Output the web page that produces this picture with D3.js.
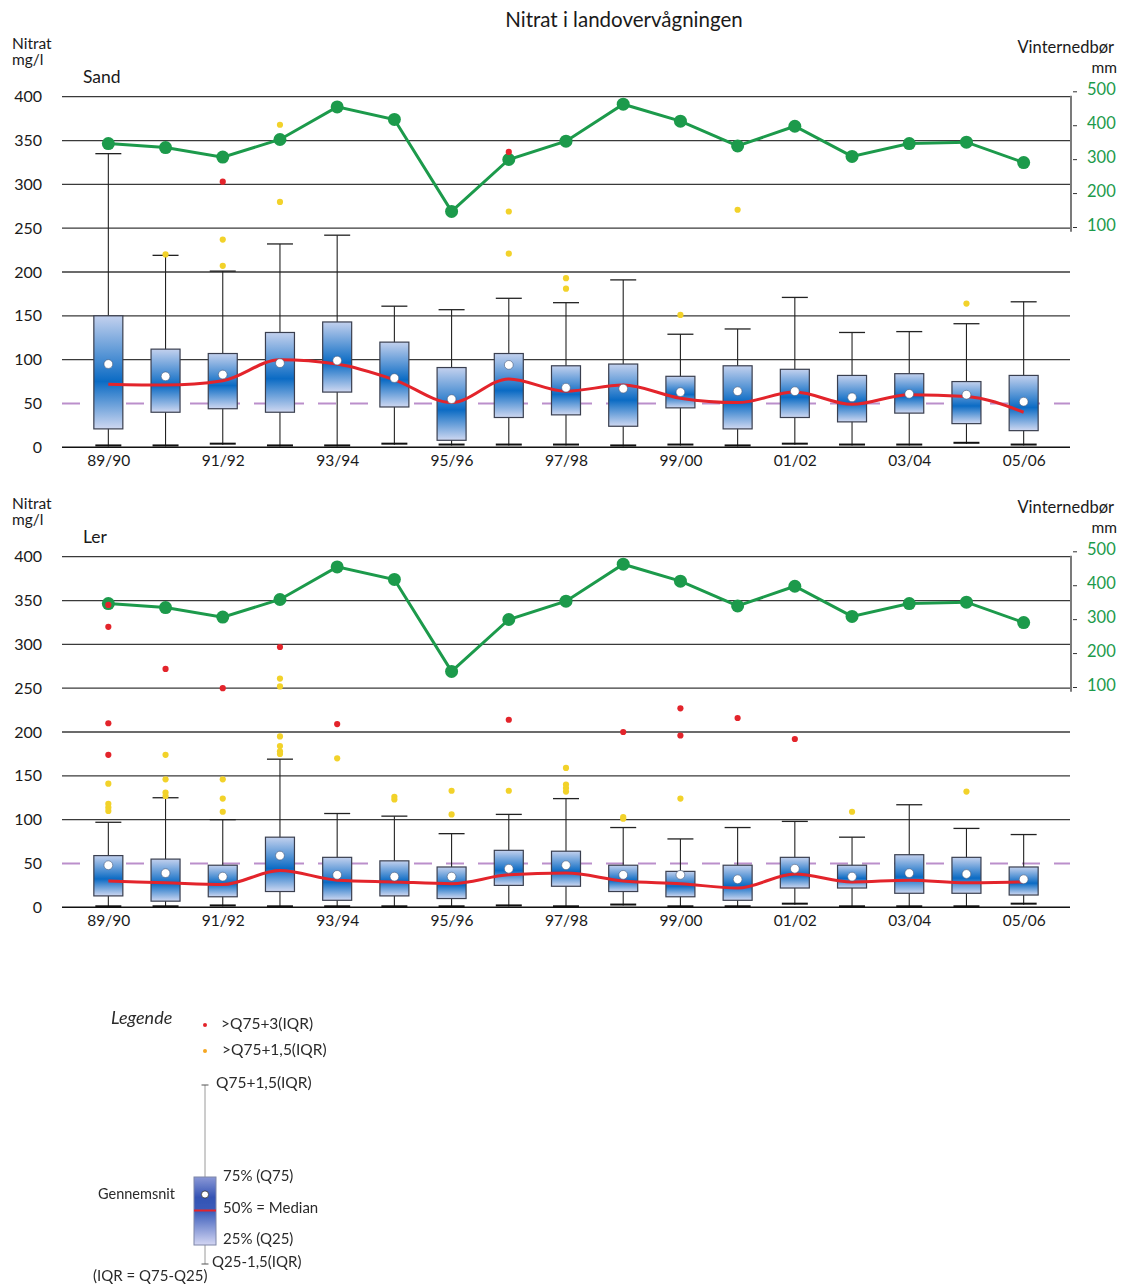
<!DOCTYPE html>
<html>
<head>
<meta charset="utf-8">
<script src="https://cdn.jsdelivr.net/npm/d3@7"></script>
<style>
  body { margin: 0; background: #fff; }
  svg { display: block; }
  text { font-family: Lato, "Open Sans", "Noto Sans", sans-serif; }
</style>
</head>
<body>
<svg id="chart" width="1121" height="1285"></svg>
<script>
// ---- data ----------------------------------------------------------------
const seasons = ["89/90","90/91","91/92","92/93","93/94","94/95","95/96","96/97","97/98",
                 "98/99","99/00","00/01","01/02","02/03","03/04","04/05","05/06"];
const labelledSeasons = ["89/90","91/92","93/94","95/96","97/98","99/00","01/02","03/04","05/06"];
const nitrateTicks = [0, 50, 100, 150, 200, 250, 300, 350, 400];
const gridValues = [100, 150, 200, 250, 300, 350, 400];
const limitValue = 50;
const precipTicks = [100, 200, 300, 400, 500];

// winter precipitation, mm
const winterPrecip = [346, 334, 306, 358, 454, 417, 146, 299, 353, 462, 412, 339, 397, 308, 346, 350, 290];

// Sand: nitrate mg/l
const sandLow    = [1, 1, 3, 1, 1, 3, 2, 2, 2, 1, 2, 1, 3, 2, 2, 4, 2];
const sandQ25    = [21, 40, 44, 40, 63, 46, 8, 34, 37, 24, 45, 21, 34, 29, 39, 27, 19];
const sandMedian = [72, 71, 76, 100, 95, 77, 51, 78, 64, 71, 56, 51, 63, 49, 60, 58, 40];
const sandQ75    = [150, 112, 107, 131, 143, 120, 91, 107, 93, 95, 81, 93, 89, 82, 84, 75, 82];
const sandHigh   = [335, 219, 201, 232, 242, 161, 157, 170, 165, 191, 129, 135, 171, 131, 132, 141, 166];
const sandMean   = [95, 81, 83, 96, 99, 79, 55, 94, 68, 67, 63, 64, 64, 57, 61, 60, 52];
const sandExtreme = [[], [], [303], [], [], [], [], [337], [], [], [], [], [], [], [], [], []];
const sandMild    = [[], [220], [237, 207], [368, 280], [], [], [], [269, 221], [193, 181], [], [151], [271], [], [], [], [164], []];

// Ler: nitrate mg/l
const lerLow    = [0, 0, 1, 0, 0, 0, 0, 1, 0, 2, 0, 0, 3, 0, 0, 0, 3];
const lerQ25    = [13, 7, 12, 18, 8, 13, 10, 25, 24, 18, 12, 8, 22, 22, 16, 16, 14];
const lerMedian = [30, 28, 26, 42, 31, 29, 27, 37, 39, 30, 27, 22, 38, 29, 31, 28, 29];
const lerQ75    = [59, 55, 48, 80, 57, 53, 46, 65, 64, 48, 41, 48, 57, 48, 60, 57, 46];
const lerHigh   = [97, 125, 100, 169, 107, 104, 84, 106, 124, 91, 78, 91, 98, 80, 117, 90, 83];
const lerMean   = [48, 39, 35, 59, 37, 35, 35, 44, 48, 37, 37, 32, 44, 35, 39, 38, 32];
const lerExtreme = [[345, 320, 210, 174], [272], [250], [297], [209], [], [], [214], [], [200], [227, 196], [216], [192], [], [], [], []];
const lerMild    = [[141, 118, 114, 110], [174, 146, 131, 127], [146, 124, 109], [261, 252, 195, 184, 178, 175], [170], [126, 123],
                    [133, 106], [133], [159, 140, 136, 132], [103, 101], [124], [], [], [109], [], [132], []];

// ---- layout --------------------------------------------------------------
const svg = d3.select("#chart");
const plotLeft = 62, plotRight = 1070;
const panelHeight = 350.6;
const boxWidth = 29, capWidth = 26;
const colors = {
  text: "#1a1a1a", grid: "#3a3a3a", green: "#1c9a4b", median: "#e3242b", extreme: "#e3242b",
  mild: "#f2d22a", limit: "#bb8fcb", whisker: "#222"
};

const x = d3.scalePoint().domain(seasons).range([plotLeft, plotRight]).padding(0.81);

const defs = svg.append("defs");
const grad = defs.append("linearGradient").attr("id", "boxFill")
  .attr("x1", 0).attr("y1", 0).attr("x2", 0).attr("y2", 1);
grad.append("stop").attr("offset", 0).attr("stop-color", "#c3d1ee");
grad.append("stop").attr("offset", 0.58).attr("stop-color", "#0b6bc4");
grad.append("stop").attr("offset", 1).attr("stop-color", "#cfd8f1");

const legendGrad = defs.append("linearGradient").attr("id", "legendFill")
  .attr("x1", 0).attr("y1", 0).attr("x2", 0).attr("y2", 1);
legendGrad.append("stop").attr("offset", 0).attr("stop-color", "#8a98d6");
legendGrad.append("stop").attr("offset", 0.3).attr("stop-color", "#3453b4");
legendGrad.append("stop").attr("offset", 0.5).attr("stop-color", "#3a5cba");
legendGrad.append("stop").attr("offset", 1).attr("stop-color", "#d3d6f3");

defs.append("filter").attr("id", "soft")
  .append("feGaussianBlur").attr("stdDeviation", 0.45);

// ---- title ---------------------------------------------------------------
svg.append("text").attr("x", 624).attr("y", 27).attr("text-anchor", "middle")
  .style("font-size", "20.5px").style("fill", colors.text).text("Nitrat i landovervågningen");

// ---- panel ---------------------------------------------------------------
function drawPanel(top, name, d) {
  const g = svg.append("g");
  const y = d3.scaleLinear().domain([0, 400]).range([top + panelHeight, top]);
  const yP = d3.scaleLinear().domain([100, 500]).range([top + 130.3, top - 5.4]);
  const label = (xx, yy, s, size, anchor) => g.append("text").attr("x", xx).attr("y", yy)
    .attr("text-anchor", anchor || "start").style("font-size", size + "px")
    .style("fill", colors.text).text(s);

  // axis titles
  label(12, top - 48, "Nitrat", 15.5);
  label(12, top - 32, "mg/l", 15.5);
  label(83, top - 14, name, 17.5);
  label(1114, top - 44, "Vinternedbør", 16.5, "end");
  label(1117, top - 24, "mm", 15.5, "end");

  // horizontal grid
  g.append("g").selectAll("line").data(gridValues).join("line")
    .attr("x1", plotLeft).attr("x2", plotRight)
    .attr("y1", v => y(v)).attr("y2", v => y(v))
    .attr("stroke", colors.grid).attr("stroke-width", 1.3);
  g.append("line").attr("x1", plotLeft).attr("x2", plotRight)
    .attr("y1", y(0)).attr("y2", y(0)).attr("stroke", "#111").attr("stroke-width", 1.6);

  // 50 mg/l reference
  g.append("line").attr("x1", plotLeft).attr("x2", plotRight)
    .attr("y1", y(limitValue)).attr("y2", y(limitValue))
    .attr("stroke", colors.limit).attr("stroke-width", 1.8).attr("stroke-dasharray", "18,14");

  // left axis labels
  const left = g.append("g").attr("transform", `translate(${plotLeft - 20},0)`)
    .call(d3.axisLeft(y).tickValues(nitrateTicks).tickSize(0).tickPadding(0));
  left.select(".domain").remove();
  left.selectAll("text").style("font-size", "16px").style("fill", colors.text)
    .style("font-family", "Lato, sans-serif");

  // bottom axis labels
  const bottom = g.append("g").attr("transform", `translate(0,${y(0) + 8})`)
    .call(d3.axisBottom(x).tickValues(labelledSeasons).tickSize(0).tickPadding(0));
  bottom.select(".domain").remove();
  bottom.selectAll("text").style("font-size", "15.5px").style("fill", colors.text)
    .style("font-family", "Lato, sans-serif");

  // right precipitation axis
  g.append("line").attr("x1", 1071).attr("x2", 1071)
    .attr("y1", top - 1).attr("y2", top + 135).attr("stroke", "#222").attr("stroke-width", 1.2);
  const right = g.append("g").attr("transform", "translate(1073,0)")
    .call(d3.axisRight(yP).tickValues(precipTicks).tickSize(4).tickPadding(10));
  right.select(".domain").remove();
  right.selectAll("line").attr("stroke", "#333");
  right.selectAll("text").style("font-size", "16.5px").style("fill", colors.green)
    .style("font-family", "Lato, sans-serif").attr("dy", "0.2em");

  // boxes
  const rows = seasons.map((s, i) => ({
    s, low: d.low[i], q25: d.q25[i], med: d.median[i], q75: d.q75[i], high: d.high[i], mean: d.mean[i]
  }));
  const boxes = g.append("g").selectAll("g").data(rows).join("g")
    .attr("transform", r => `translate(${x(r.s)},0)`);
  boxes.append("line").attr("x1", 0).attr("x2", 0)
    .attr("y1", r => y(r.low)).attr("y2", r => y(r.high))
    .attr("stroke", colors.whisker).attr("stroke-width", 1.1);
  boxes.append("line").attr("x1", -capWidth / 2).attr("x2", capWidth / 2)
    .attr("y1", r => y(r.high)).attr("y2", r => y(r.high))
    .attr("stroke", colors.whisker).attr("stroke-width", 1.3);
  boxes.append("line").attr("x1", -capWidth / 2).attr("x2", capWidth / 2)
    .attr("y1", r => y(r.low) - 1).attr("y2", r => y(r.low) - 1)
    .attr("stroke", "#111").attr("stroke-width", 2);
  boxes.append("rect").attr("x", -boxWidth / 2).attr("width", boxWidth)
    .attr("y", r => y(r.q75)).attr("height", r => y(r.q25) - y(r.q75))
    .attr("fill", "url(#boxFill)").attr("stroke", "#3a3f4f").attr("stroke-width", 1.2);

  // median line
  g.append("path").datum(rows)
    .attr("d", d3.line().x(r => x(r.s)).y(r => y(r.med)).curve(d3.curveMonotoneX))
    .attr("fill", "none").attr("stroke", colors.median).attr("stroke-width", 3);

  // means
  g.append("g").selectAll("circle").data(rows).join("circle")
    .attr("cx", r => x(r.s)).attr("cy", r => y(r.mean)).attr("r", 4.4)
    .attr("fill", "#fff").attr("stroke", "#4a5a7a").attr("stroke-width", 0.6);

  // winter precipitation
  const pData = seasons.map((s, i) => ({ s, v: winterPrecip[i] }));
  g.append("path").datum(pData)
    .attr("d", d3.line().x(p => x(p.s)).y(p => yP(p.v)))
    .attr("fill", "none").attr("stroke", colors.green).attr("stroke-width", 3);
  g.append("g").selectAll("circle").data(pData).join("circle")
    .attr("cx", p => x(p.s)).attr("cy", p => yP(p.v)).attr("r", 6.5)
    .attr("fill", colors.green);

  // outliers
  const mild = d.mild.flatMap((arr, i) => arr.map(v => ({ s: seasons[i], v })));
  const extreme = d.extreme.flatMap((arr, i) => arr.map(v => ({ s: seasons[i], v })));
  g.append("g").selectAll("circle").data(mild).join("circle")
    .attr("cx", p => x(p.s)).attr("cy", p => y(p.v)).attr("r", 3.1).attr("fill", colors.mild);
  g.append("g").selectAll("circle").data(extreme).join("circle")
    .attr("cx", p => x(p.s)).attr("cy", p => y(p.v)).attr("r", 3.1).attr("fill", colors.extreme);
}

drawPanel(96.7, "Sand", {
  low: sandLow, q25: sandQ25, median: sandMedian, q75: sandQ75, high: sandHigh, mean: sandMean,
  extreme: sandExtreme, mild: sandMild
});
drawPanel(556.7, "Ler", {
  low: lerLow, q25: lerQ25, median: lerMedian, q75: lerQ75, high: lerHigh, mean: lerMean,
  extreme: lerExtreme, mild: lerMild
});

// ---- legend --------------------------------------------------------------
const lg = svg.append("g").attr("filter", "url(#soft)");
const lt = (xx, yy, s, size, italic) => lg.append("text").attr("x", xx).attr("y", yy)
  .style("font-size", size + "px").style("font-style", italic ? "italic" : "normal")
  .style("fill", "#2a2a2a").text(s);

lt(111, 1024, "Legende", 18, true);
lg.append("circle").attr("cx", 205).attr("cy", 1025).attr("r", 2).attr("fill", colors.extreme);
lt(221, 1029, ">Q75+3(IQR)", 15.5);
lg.append("circle").attr("cx", 205).attr("cy", 1051).attr("r", 2).attr("fill", "#f5a623");
lt(222, 1055, ">Q75+1,5(IQR)", 15.5);

lg.append("line").attr("x1", 205).attr("x2", 205).attr("y1", 1085).attr("y2", 1264)
  .attr("stroke", "#9a9a9a").attr("stroke-width", 1);
lg.append("line").attr("x1", 201.5).attr("x2", 208.5).attr("y1", 1085).attr("y2", 1085)
  .attr("stroke", "#555").attr("stroke-width", 1);
lg.append("line").attr("x1", 201.5).attr("x2", 208.5).attr("y1", 1264).attr("y2", 1264)
  .attr("stroke", "#555").attr("stroke-width", 1);
lg.append("rect").attr("x", 194).attr("y", 1177).attr("width", 22).attr("height", 68)
  .attr("fill", "url(#legendFill)").attr("stroke", "#7f86a8").attr("stroke-width", 1);
lg.append("line").attr("x1", 194).attr("x2", 216).attr("y1", 1210.5).attr("y2", 1210.5)
  .attr("stroke", colors.median).attr("stroke-width", 2);
lg.append("circle").attr("cx", 205).attr("cy", 1194.5).attr("r", 3.6)
  .attr("fill", "#fff").attr("stroke", "#333").attr("stroke-width", 0.8);

lt(216, 1088, "Q75+1,5(IQR)", 15.5);
lt(223, 1181, "75% (Q75)", 15);
lt(223, 1213, "50% = Median", 15);
lt(223, 1244, "25% (Q25)", 15);
lt(212, 1267, "Q25-1,5(IQR)", 15);
lt(98, 1199, "Gennemsnit", 14.5);
lt(93, 1281, "(IQR = Q75-Q25)", 15);
</script>
</body>
</html>
